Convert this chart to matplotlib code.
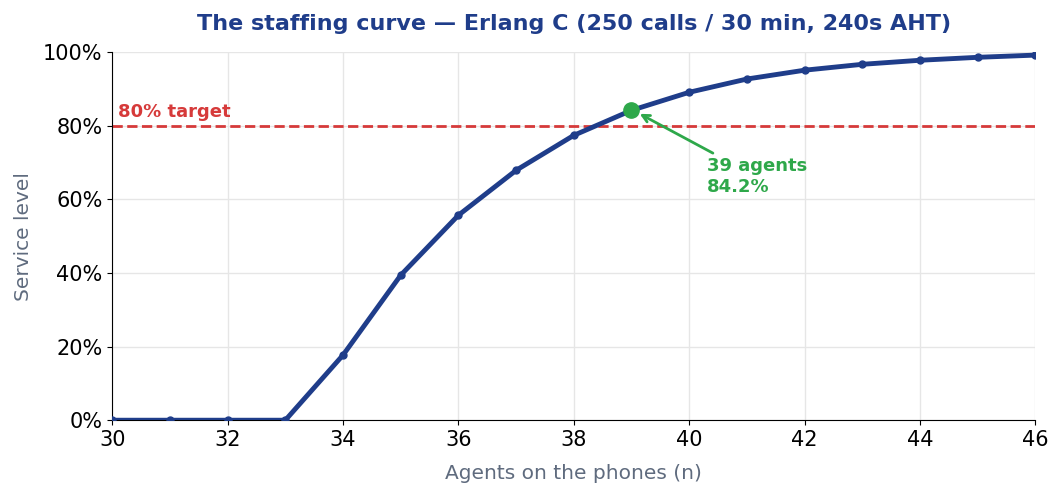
import matplotlib.pyplot as plt
from matplotlib.ticker import PercentFormatter

agents = [30, 31, 32, 33, 34, 35, 36, 37, 38, 39, 40, 41, 42, 43, 44, 45, 46]
service_level = [0.0, 0.0, 0.0, 0.0, 17.7, 39.4, 55.7, 67.9, 77.4, 84.2,
                 89.1, 92.7, 95.1, 96.7, 97.8, 98.6, 99.2]
target = 80
pick_n = 39
pick_sl = 84.2

navy = '#1f3d8a'
red = '#d63a3a'
green = '#2ea84a'
grey = '#5f6b7e'

fig, ax = plt.subplots(figsize=(10.49, 4.83), dpi=100)
fig.subplots_adjust(left=0.107, right=0.987, top=0.892, bottom=0.13)

ax.plot(agents, service_level, color=navy, lw=3.5, marker='o', ms=5, zorder=3)
ax.axhline(target, color=red, ls='--', lw=2, zorder=2)
ax.text(30.1, target + 1.2, '80% target', color=red, fontsize=13,
        fontweight='bold', va='bottom')

ax.plot([pick_n], [pick_sl], 'o', color=green, ms=11, zorder=4)
ax.annotate(f'{pick_n} agents\n{pick_sl}%', xy=(pick_n + 0.1, pick_sl - 0.6),
            xytext=(40.3, 62), color=green, fontsize=13, fontweight='bold',
            arrowprops=dict(arrowstyle='->', color=green, lw=2))

ax.set_xlim(30, 46)
ax.set_ylim(0, 100)
ax.set_xticks(range(30, 47, 2))
ax.set_yticks(range(0, 101, 20))
ax.yaxis.set_major_formatter(PercentFormatter(decimals=0))
ax.tick_params(labelsize=15)
ax.grid(True, color='#e6e6e6', lw=1)
ax.set_axisbelow(True)
for s in ['top', 'right']:
    ax.spines[s].set_visible(False)

ax.set_xlabel('Agents on the phones (n)', color=grey, fontsize=14.5, labelpad=10)
ax.set_ylabel('Service level', color=grey, fontsize=14.5, labelpad=7)
ax.set_title('The staffing curve — Erlang C (250 calls / 30 min, 240s AHT)',
             color=navy, fontsize=16, fontweight='bold', pad=16)

fig.savefig('out.png', dpi=100)
